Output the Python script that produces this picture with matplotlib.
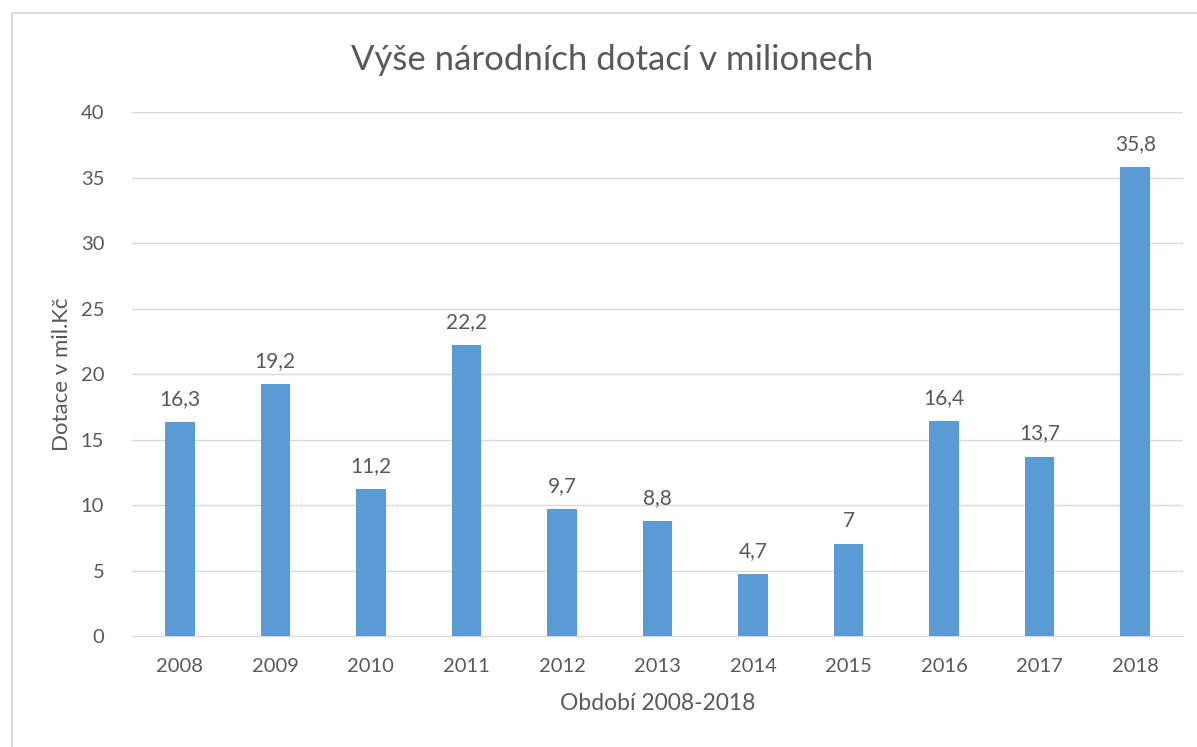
import matplotlib.pyplot as plt
from matplotlib.lines import Line2D

years = ['2008', '2009', '2010', '2011', '2012', '2013', '2014', '2015', '2016', '2017', '2018']
values = [16.3, 19.2, 11.2, 22.2, 9.7, 8.8, 4.7, 7.0, 16.4, 13.7, 35.8]
labels = ['16,3', '19,2', '11,2', '22,2', '9,7', '8,8', '4,7', '7', '16,4', '13,7', '35,8']

plt.rcParams['font.family'] = ['Lato', 'DejaVu Sans']
txt = '#595959'

fig = plt.figure(figsize=(11.97, 7.47), dpi=100)
ax = fig.add_axes([132 / 1197, 111 / 747, 1051 / 1197, 524 / 747])

# chart frame (only left and top visible in the crop)
fig.add_artist(Line2D([11.5 / 1197, 11.5 / 1197], [0, 1 - 13 / 747], transform=fig.transFigure, color='#D9D9D9', lw=1.5))
fig.add_artist(Line2D([11.5 / 1197, 1], [1 - 13 / 747, 1 - 13 / 747], transform=fig.transFigure, color='#D9D9D9', lw=1.5))

x = range(len(years))
ax.bar(x, values, width=0.31, color='#5B9BD5', zorder=3)
for xi, v, lab in zip(x, values, labels):
    ax.text(xi, v + 1.0, lab, ha='center', va='bottom', fontsize=15, color=txt)

ax.set_xlim(-0.5, len(years) - 0.5)
ax.set_ylim(0, 40)
ax.set_yticks(range(0, 41, 5))
ax.set_xticks(list(x))
ax.set_xticklabels(years)
ax.yaxis.grid(True, color='#D9D9D9', lw=1, zorder=0)
for s in ['top', 'right', 'left']:
    ax.spines[s].set_visible(False)
ax.spines['bottom'].set_color('#D9D9D9')
ax.tick_params(axis='both', length=0, labelsize=14.5, labelcolor=txt)
ax.tick_params(axis='y', pad=20)
ax.tick_params(axis='x', pad=16)

ax.set_xlabel('Období 2008-2018', fontsize=16.5, color=txt, labelpad=13)
ax.set_ylabel('Dotace v mil.Kč', fontsize=16, color=txt, labelpad=6)
fig.text(612 / 1197, 1 - 60 / 747, 'Výše národních dotací v milionech', ha='center', va='center', fontsize=25, color=txt)

fig.savefig('out.png', dpi=100)
